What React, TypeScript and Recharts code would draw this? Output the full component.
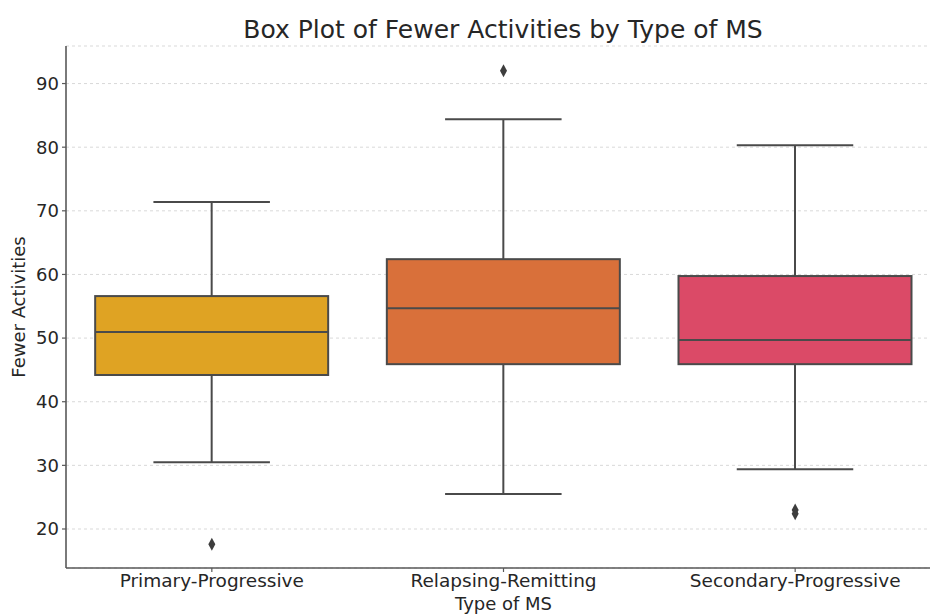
import { ComposedChart, Bar, Scatter, XAxis, YAxis, CartesianGrid, Label } from "recharts"

const categories = ["Primary-Progressive", "Relapsing-Remitting", "Secondary-Progressive"]
const whiskerLow = [30.5, 25.5, 29.4]
const quartile1 = [44.2, 45.9, 45.9]
const medians = [50.95, 54.7, 49.7]
const quartile3 = [56.6, 62.4, 59.75]
const whiskerHigh = [71.4, 84.4, 80.3]
const outliersA = [17.6, 92.0, 23.0]
const outliersB = [null, null, 22.4]
const boxColors = ["#DFA323", "#D9703A", "#DB4A67"]
const yTicks = [20, 30, 40, 50, 60, 70, 80, 90]

const LINE = "#4a4a4a"
const TEXT = "#262626"
const FONT = "'DejaVu Sans', sans-serif"

const rows = categories.map((type, i) => ({
  type,
  range: [whiskerLow[i], whiskerHigh[i]],
  low: whiskerLow[i],
  q1: quartile1[i],
  median: medians[i],
  q3: quartile3[i],
  high: whiskerHigh[i],
  outA: outliersA[i],
  outB: outliersB[i],
  color: boxColors[i],
}))

// the bar spans low..high whisker, so other stats are placed along it linearly
function BoxShape(props: any) {
  const { x, y, width, height, payload } = props
  const top = Math.min(y, y + height)
  const bottom = Math.max(y, y + height)
  const px = (v: number) =>
    top + ((payload.high - v) / (payload.high - payload.low)) * (bottom - top)
  const cx = x + width / 2
  const cap = width / 4
  const yq1 = px(payload.q1)
  const yq3 = px(payload.q3)
  const ymed = px(payload.median)
  return (
    <g>
      <line x1={cx} x2={cx} y1={top} y2={yq3} stroke={LINE} strokeWidth={2} />
      <line x1={cx} x2={cx} y1={yq1} y2={bottom} stroke={LINE} strokeWidth={2} />
      <line x1={cx - cap} x2={cx + cap} y1={top} y2={top} stroke={LINE} strokeWidth={2} />
      <line x1={cx - cap} x2={cx + cap} y1={bottom} y2={bottom} stroke={LINE} strokeWidth={2} />
      <rect
        x={x}
        y={yq3}
        width={width}
        height={yq1 - yq3}
        fill={payload.color}
        stroke={LINE}
        strokeWidth={2}
      />
      <line x1={x} x2={x + width} y1={ymed} y2={ymed} stroke={LINE} strokeWidth={2} />
    </g>
  )
}

function Diamond(props: any) {
  const { cx, cy } = props
  if (!Number.isFinite(cx) || !Number.isFinite(cy)) return <g />
  return (
    <path
      d={`M${cx},${cy - 6.5} L${cx + 3.5},${cy} L${cx},${cy + 6.5} L${cx - 3.5},${cy} Z`}
      fill="#3d3d3d"
    />
  )
}

function DiamondB(props: any) {
  if (props.payload?.outB == null) return <g />
  return <Diamond {...props} />
}

export default function App() {
  return (
    <div
      style={{
        position: "absolute",
        left: 0,
        top: 0,
        width: 930,
        height: 614,
        overflow: "hidden",
        background: "#fff",
        fontFamily: FONT,
      }}
    >
      <div
        style={{
          position: "absolute",
          left: 0,
          width: 1006,
          top: 15,
          textAlign: "center",
          fontSize: 25,
          color: TEXT,
          lineHeight: "30px",
        }}
      >
        Box Plot of Fewer Activities by Type of MS
      </div>
      <ComposedChart
        width={941}
        height={614}
        data={rows}
        margin={{ top: 46, right: 0, bottom: 0, left: 0 }}
        barCategoryGap="10%"
        style={{ fontFamily: FONT }}
      >
        <CartesianGrid
          vertical={false}
          stroke="#cfcfcf"
          strokeDasharray="3 3"
          strokeWidth={0.8}
        />
        <XAxis
          dataKey="type"
          height={46}
          tickSize={4}
          tickMargin={2}
          axisLine={{ stroke: "#595959", strokeWidth: 1.6 }}
          tickLine={{ stroke: "#595959", strokeWidth: 1.2 }}
          tick={{ fontSize: 18.5, fill: TEXT }}
          interval={0}
        >
          <Label value="Type of MS" position="insideBottom" offset={4} style={{ fontSize: 18, fill: TEXT }} />
        </XAxis>
        <YAxis
          type="number"
          width={66}
          domain={[13.87, 95.9]}
          ticks={yTicks}
          allowDataOverflow
          tickSize={4}
          tickMargin={3}
          axisLine={{ stroke: "#595959", strokeWidth: 1.6 }}
          tickLine={{ stroke: "#595959", strokeWidth: 1.2 }}
          tick={{ fontSize: 18, fill: TEXT }}
        >
          <Label
            content={({ viewBox }: any) => {
              const lx = (viewBox?.x ?? 0) + 20
              const ly = (viewBox?.y ?? 0) + (viewBox?.height ?? 0) / 2
              return (
                <text
                  x={lx}
                  y={ly}
                  transform={`rotate(-90 ${lx} ${ly})`}
                  textAnchor="middle"
                  dominantBaseline="middle"
                  style={{ fontSize: 18, fill: TEXT }}
                >
                  Fewer Activities
                </text>
              )
            }}
          />
        </YAxis>
        <Bar dataKey="range" shape={<BoxShape />} isAnimationActive={false} />
        <Scatter dataKey="outA" shape={<Diamond />} isAnimationActive={false} />
        <Scatter dataKey="outB" shape={<DiamondB />} isAnimationActive={false} />
      </ComposedChart>
    </div>
  )
}
